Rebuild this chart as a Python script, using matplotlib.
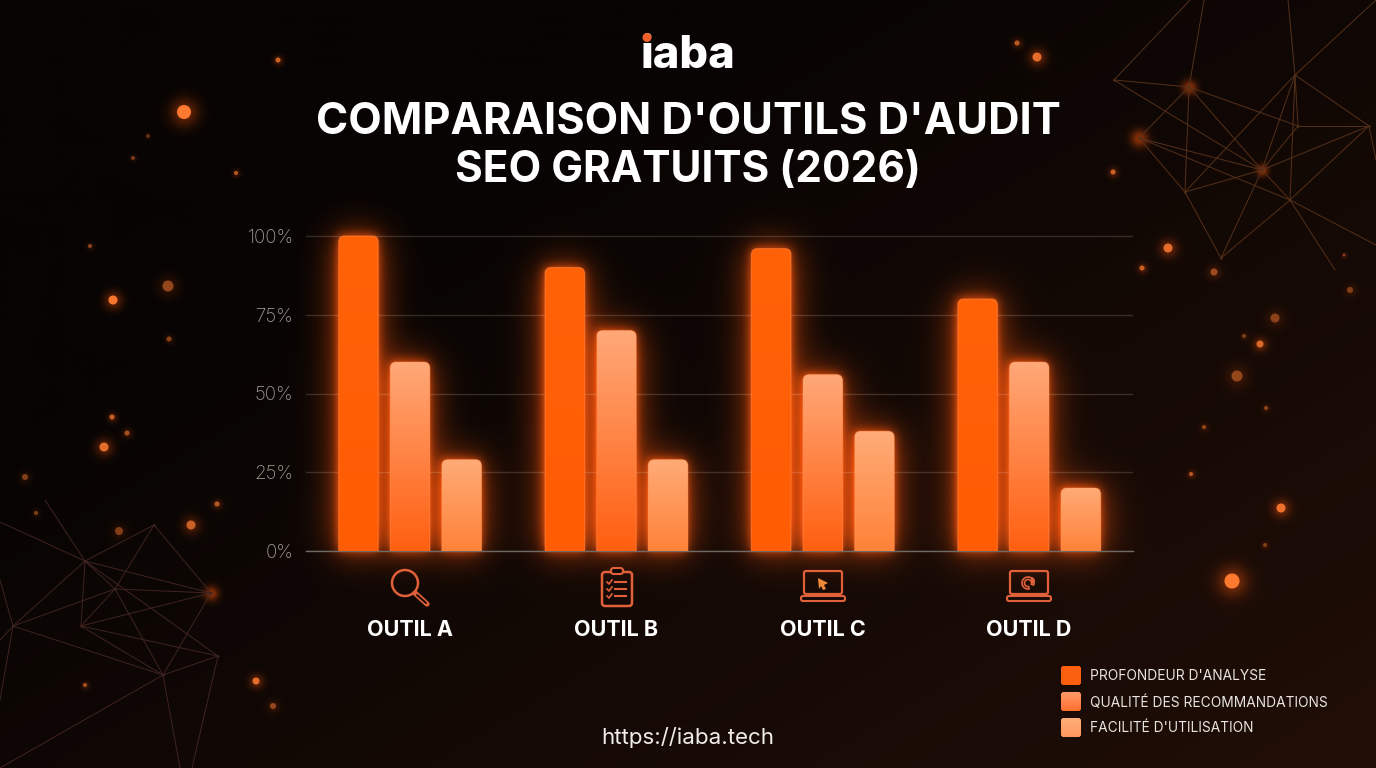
import matplotlib
matplotlib.use("Agg")
import matplotlib.pyplot as plt
from matplotlib.colors import to_rgb
from matplotlib.patches import Circle, FancyBboxPatch, Polygon, Wedge
import numpy as np

W, H = 1376, 768

tools = ["OUTIL A", "OUTIL B", "OUTIL C", "OUTIL D"]
series_names = ["PROFONDEUR D'ANALYSE", "QUALITÉ DES RECOMMANDATIONS", "FACILITÉ D'UTILISATION"]
profondeur = [100, 90, 96, 80]
qualite = [60, 70, 56, 60]
facilite = [29, 29, 38, 20]
y_ticks = [0, 25, 50, 75, 100]
y_labels = ["0%", "25%", "50%", "75%", "100%"]
bar_colors = [("#ff6208", "#ff5c04"), ("#ffa878", "#ff5f10"), ("#ffab78", "#ff8238")]

# background decoration, x, y, radius, brightness
dots = [
    (184, 112, 7, 1.0), (278, 60, 2.5, .7), (236, 173, 2, .6), (133, 158, 2, .25),
    (148, 136, 2, .15), (90, 246, 2, .35), (113, 300, 4.5, .95), (168, 286, 5.5, .4),
    (169, 339, 2.5, .35), (112, 417, 2.5, .7), (127, 433, 2.5, .5), (104, 447, 4.5, .85),
    (25, 477, 3, .3), (191, 525, 4.5, .7), (119, 531, 4, .3), (217, 504, 2.5, .6),
    (36, 513, 2, .3), (85, 685, 2, .5), (256, 681, 3.5, .85), (273, 706, 3, .4),
    (1017, 43, 2.5, .6), (1037, 57, 4.5, .85), (1113, 172, 2.5, .7), (1168, 248, 4.5, .85),
    (1142, 268, 2.5, .7), (1214, 272, 3.5, .45), (1275, 318, 4.5, .35), (1260, 344, 3.5, .8),
    (1244, 336, 2, .3), (1237, 376, 5.5, .4), (1204, 427, 2, .4), (1266, 408, 2, .35),
    (1191, 474, 2, .6), (1281, 508, 4.5, .9), (1265, 545, 2, .3), (1232, 581, 7.5, 1.0),
    (1350, 290, 3, .3), (1344, 255, 1.5, .3),
]
net_nodes_tr = {"a": (1114, 80), "b": (1189, 87), "c": (1139, 138), "d": (1185, 192), "e": (1262, 170),
                "f": (1290, 200), "g": (1221, 258), "h": (1295, 75), "i": (1298, 126), "j": (1369, 126),
                "t1": (1190, 0), "t2": (1204, 0), "t3": (1288, 0), "t4": (1376, 0), "r1": (1376, 160),
                "r2": (1376, 245), "r3": (1335, 270)}
net_edges_tr = ["a t1", "b t2", "h t3", "h t4", "a b", "a e", "b c", "b d", "b e", "b i", "c e", "c f", "c d",
                "d g", "d e", "d h", "g e", "g f", "e h", "e i", "e j", "e f", "f h", "f j", "h j", "i j",
                "f r2", "f r3", "j r1", "h i"]
net_nodes_bl = {"A": (85, 561), "B": (154, 525), "C": (211, 593), "D": (115, 589), "E": (81, 626), "F": (13, 626),
                "G": (163, 675), "H": (218, 656), "b1": (0, 768), "b2": (180, 768), "b3": (192, 768),
                "l1": (0, 700), "l2": (0, 580), "l3": (0, 640), "l4": (0, 522), "l5": (45, 500)}
net_edges_bl = ["A B", "B D", "B C", "A C", "A D", "A F", "A E", "D F", "D E", "D C", "D G", "A H", "C E", "C G",
                "E H", "E G", "F G", "G H", "G b1", "G b2", "H b3", "F l1", "F l2", "F l3", "A l4", "A l5"]
net_glow = [(1139, 138, 6), (1189, 87, 5), (1262, 170, 4), (211, 593, 5)]


def blur(img, sigma):
    fy = np.fft.fftfreq(img.shape[0])[:, None]
    fx = np.fft.rfftfreq(img.shape[1])[None, :]
    kernel = np.exp(-2 * (np.pi * sigma) ** 2 * (fx ** 2 + fy ** 2))
    return np.fft.irfft2(np.fft.rfft2(img) * kernel, s=img.shape)


def px_text(ax, x, y, s, **kw):
    kw.setdefault("family", ["Inter", "DejaVu Sans"])
    return ax.text(x, y, s, **kw)


fig = plt.figure(figsize=(W / 100, H / 100), dpi=100, facecolor="black")
bg = fig.add_axes([0, 0, 1, 1], zorder=0)
ax = fig.add_axes([306 / W, 1 - 551 / H, 827 / W, 315 * 1.05 / H], zorder=1)
top = fig.add_axes([0, 0, 1, 1], zorder=2)
for a in (bg, top):
    a.set_xlim(0, W)
    a.set_ylim(H, 0)
    a.axis("off")
top.patch.set_alpha(0)

# chart
ax.patch.set_alpha(0)
ax.set_xlim(-0.504, 3.503)
ax.set_ylim(0, 105)
step = 0.25
bar_w = 0.192
x_groups = np.arange(len(tools))
asp = (105 / (315 * 1.05)) / (4.007 / 827)
mask = np.zeros((H, W))
for i, vals in enumerate([profondeur, qualite, facilite]):
    c_top, c_bot = [np.array(to_rgb(c)) for c in bar_colors[i]]
    grad = np.linspace(c_bot, c_top, 64)[:, None, :]
    for x, v in zip(x_groups + (i - 1) * step, vals):
        x0, x1 = x - bar_w / 2, x + bar_w / 2
        p = FancyBboxPatch((x0, -6), bar_w, v + 6, boxstyle="round,pad=0,rounding_size=0.03",
                           mutation_aspect=asp, fc=c_bot, ec="none", zorder=3)
        ax.add_patch(p)
        im = ax.imshow(grad, extent=(x0, x1, 0, v), origin="lower", aspect="auto",
                       interpolation="bilinear", zorder=4)
        im.set_clip_path(p)
        ax.add_patch(FancyBboxPatch((x0, -6), bar_w, v + 6, boxstyle="round,pad=0,rounding_size=0.03",
                                    mutation_aspect=asp, fc="none", ec=(1, .62, .4, .3), lw=1, zorder=5))
        (px0, py0), (px1, py1) = ax.transData.transform([(x0, 0), (x1, v)])
        mask[int(H - py1):int(H - py0), int(px0):int(px1)] = 1
ax.set_xlim(-0.504, 3.503)
ax.set_ylim(0, 105)
ax.set_yticks(y_ticks, y_labels, family=["Inter", "DejaVu Sans"], fontsize=13.5, color="#a09a96", fontweight="light")
ax.set_xticks(x_groups, tools, family=["Inter", "DejaVu Sans"], fontsize=15.5, color="white", fontweight="bold")
ax.tick_params(axis="y", length=0, pad=9)
ax.tick_params(axis="x", length=0, pad=50)
ax.grid(axis="y", color=(1, .9, .82), alpha=0.17, lw=1)
ax.set_axisbelow(True)
for name, spine in ax.spines.items():
    spine.set_visible(name == "bottom")
ax.spines["bottom"].set_color("#6f6a66")
ax.spines["bottom"].set_linewidth(1)

# background picture
yy, xx = np.mgrid[0:H, 0:W]
d = np.clip(((xx / W) * 0.65 + (yy / H) * 0.6 - 0.35) / 0.9, 0, 1)
canvas = np.zeros((H, W, 3))
canvas[..., 0] = 7 + 26 * d
canvas[..., 1] = 4 + 10 * d
canvas[..., 2] = 3 + 4 * d
glow = blur(mask, 5) * 0.6 + blur(mask, 18) * 0.75
glow_rgb = np.array([255, 84, 8])
canvas += glow[..., None] * glow_rgb
for x, y, r, b in dots:
    blob = np.exp(-((xx - x) ** 2 + (yy - y) ** 2) / (2 * (r * 1.4) ** 2)) * b * 0.4
    canvas += blob[..., None] * glow_rgb
for x, y, r in net_glow:
    blob = np.exp(-((xx - x) ** 2 + (yy - y) ** 2) / (2 * r ** 2)) * 0.5
    canvas += blob[..., None] * glow_rgb
bg.imshow(np.clip(canvas, 0, 255).astype(np.uint8), extent=(0, W, H, 0), aspect="auto", interpolation="bilinear")
bg.set_xlim(0, W)
bg.set_ylim(H, 0)

# network lines
for nodes, edges, col in [(net_nodes_tr, net_edges_tr, "#55301a"), (net_nodes_bl, net_edges_bl, "#3f2420")]:
    for e in edges:
        n0, n1 = e.split()
        bg.plot(*zip(nodes[n0], nodes[n1]), color=col, lw=0.7, solid_capstyle="round", zorder=2)
    pts = [v for k, v in nodes.items() if k[-1].isalpha()]
    bg.scatter(*zip(*pts), s=3, color=col, zorder=2, lw=0)

# particles
for x, y, r, b in dots:
    rgb = np.array(to_rgb("#ff7a30")) * (0.3 + 0.7 * b)
    bg.add_patch(Circle((x, y), r, fc=rgb, ec="none", zorder=3))

# logo
px_text(top, 688, 68, "iaba", ha="center", va="baseline", fontsize=32.5, fontweight=800, color="white")
top.add_patch(Circle((647, 37.5), 4.5, fc="#f0602c", ec="none", zorder=5))

# title
px_text(top, 688, 134, "COMPARAISON D'OUTILS D'AUDIT", ha="center", va="baseline", fontsize=31.3, fontweight="bold", color="white")
px_text(top, 688, 182, "SEO GRATUITS (2026)", ha="center", va="baseline", fontsize=30.5, fontweight="bold", color="white")

# icons
ic = "#e0603a"
top.add_patch(Circle((405, 583), 13, fc="none", ec=ic, lw=1.8))
top.plot([415, 427], [593, 604], color=ic, lw=3.8, solid_capstyle="round")
top.plot([417, 426], [595, 603], color="#200c05", lw=1.4, solid_capstyle="round")
top.add_patch(FancyBboxPatch((602, 572), 30, 34, boxstyle="round,pad=0,rounding_size=3", fc="none", ec=ic, lw=1.8))
top.add_patch(FancyBboxPatch((611, 568), 12, 6, boxstyle="round,pad=0,rounding_size=2.5", fc="#140806", ec=ic, lw=1.5))
for cy in [582, 589, 596]:
    top.plot([607, 609, 612], [cy, cy + 2, cy - 2], color=ic, lw=1.2)
    top.plot([615, 626], [cy, cy], color=ic, lw=1.5)
for cx in [823, 1029]:
    top.add_patch(FancyBboxPatch((cx - 19, 571), 38, 23, boxstyle="round,pad=0,rounding_size=2", fc="none", ec=ic, lw=1.6))
    top.add_patch(FancyBboxPatch((cx - 22, 596), 44, 5, boxstyle="round,pad=0,rounding_size=2", fc="none", ec=ic, lw=1.5))
top.add_patch(Polygon([(818, 578), (828, 583), (824, 585), (826, 589), (823, 590), (821, 586), (819, 589)], fc="#f08a3a", ec="none"))
top.add_patch(Wedge((1028, 583), 6, 80, 380, width=2.5, fc="none", ec=ic, lw=1.2))
top.add_patch(Wedge((1031, 581), 4, -90, 60, fc=ic, ec="none"))

# legend
swatch_y = [666, 692, 718]
text_y = [676.5, 702.5, 728.5]
for name, sy, ty, (c_top, c_bot) in zip(series_names, swatch_y, text_y, [("#ff5f12", "#f8600e"), ("#ff9a68", "#ff7030"), ("#ffac78", "#ff9a5e")]):
    p = FancyBboxPatch((1061, sy), 20, 19, boxstyle="round,pad=0,rounding_size=3", fc=c_bot, ec="none")
    top.add_patch(p)
    grad = np.linspace(np.array(to_rgb(c_top)), np.array(to_rgb(c_bot)), 16)[:, None, :]
    im = top.imshow(grad, extent=(1061, 1081, sy + 19, sy), aspect="auto", interpolation="bilinear", zorder=2)
    im.set_clip_path(p)
    px_text(top, 1090, ty, name, ha="left", va="center", fontsize=9.9, color="#e8e4e0")
top.set_xlim(0, W)
top.set_ylim(H, 0)

px_text(top, 688, 744, "https://iaba.tech", ha="center", va="baseline", fontsize=16.1, color="#f0ecea")

fig.savefig("out.png", dpi=100, facecolor="black")
